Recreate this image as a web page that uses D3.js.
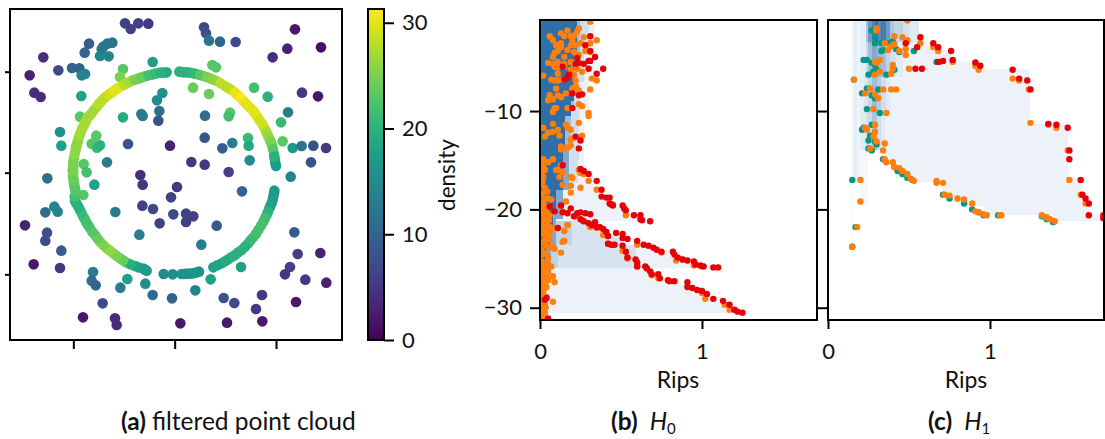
<!DOCTYPE html>
<html>
<head>
<meta charset="utf-8">
<script src="https://cdn.jsdelivr.net/npm/d3@7"></script>
<style>
  body { margin: 0; background: #fff; }
  svg { display: block; }
  text { font-family: Lato, "Noto Sans", sans-serif; fill: #111; }
  .tick text { font-size: 22px; }
  .tick line, .frame { stroke: #000; stroke-width: 2px; }
  .frame { fill: none; }
  .shade { shape-rendering: crispEdges; }
</style>
</head>
<body>
<svg width="1105" height="439"></svg>
<script>
// point cloud: [x, y, density], x/y in the plot's own unlabelled units
let cloudPoints = [
  [375,70,6],[392,87,6],[415,70,6],[445,71,5],[612,82,7],[618,100,8],[627,122,12],[660,125,10],[707,126,7],[885,88,2],[963,142,1],[862,146,3],[818,172,4],
  [267,131,9],[337,128,12],[322,131,12],[310,140,12],[305,147,12],[300,168,14],[326,169,14],[254,158,10],[130,172,4],[89,226,3],[175,211,7],[216,204,10],[238,205,10],[255,222,14],[245,226,14],
  [458,186,17],[369,207,23],[360,231,25],[637,195,23],[648,202,23],[762,263,22],[803,290,20],[906,278,5],[954,289,2],[864,337,13],[843,367,21],[848,424,23],[878,444,17],[905,438,12],[940,437,8],[978,444,5],[933,487,8],[872,530,14],
  [244,288,18],[103,278,4],[122,291,4],[240,350,23],[369,352,19],[424,342,13],[428,348,13],[478,333,11],[475,362,8],[471,301,15],[487,279,16],[579,263,24],[627,282,24],[615,347,11],[690,338,23],[686,349,22],[614,413,8],[667,445,9],[697,429,13],[744,414,21],[746,437,19],[749,481,15],[574,486,5],[614,494,5],[686,516,6],
  [180,396,16],[184,437,18],[289,407,23],[275,431,23],[291,443,21],[300,436,20],[384,432,8],[510,437,3],[321,487,13],[251,492,23],[260,517,22],[142,535,11],[421,525,4],
  [428,554,5],[531,561,5],[283,554,18],[513,592,6],[726,574,10],[427,617,6],[459,627,7],[520,643,7],[558,641,6],[580,649,6],[558,666,6],[479,670,6],[650,677,9],[346,636,13],[163,620,14],[173,635,14],[136,637,11],[75,676,3],[141,698,8],[136,722,7],[184,752,9],[418,704,13],[604,734,13],[883,697,9],[893,762,6],[961,759,3],[870,801,6],[855,823,5],[916,839,5],[979,848,3],[101,793,2],[180,804,5],[279,816,13],[275,842,11],[287,856,10],[361,863,13],[382,837,18],[436,851,15],[458,885,11],[516,895,10],[586,871,14],[632,838,18],[723,801,18],[671,894,8],[703,909,7],[786,885,5],[768,927,5],[888,906,2],[787,964,2],[681,968,2],[541,970,2],[345,955,4],[350,975,4],[249,952,2],[308,910,7],
  // the ring
  [219,525,24],[218,510,25],[219,495,25],[222,475,25],[227,450,26],[230,435,26],[236,415,27],[243,395,27],[252,375,27],[262,355,28],[275,340,27],[290,320,28],[305,303,28],[320,288,29],[335,278,29],[350,267,30],[365,258,29],[380,250,27],[395,242,26],[415,236,24],[435,229,23],[455,224,22],[475,219,20],[490,218,19],[500,217,19],
  [538,215,20],[550,217,20],[570,218,21],[590,222,22],[610,228,24],[630,235,26],[650,243,27],[675,258,28],[695,270,29],[715,287,30],[730,302,31],[745,318,30],[760,333,30],[772,350,30],[785,370,29],[795,388,28],[803,405,27],[810,420,26],[816,435,25],[822,462,22],[825,480,19],[826,490,18],[828,498,17],
  [823,572,17],[820,590,17],[815,610,18],[808,625,19],[800,645,21],[790,665,22],[775,690,22],[760,712,22],[745,730,21],[725,750,20],[705,765,20],[685,778,20],[665,790,19],[640,802,18],
  [597,815,16],[580,820,16],[560,821,16],[545,822,16],[518,823,15],[491,822,15],[440,812,17],[430,806,17],[405,798,19],[378,787,23],[360,775,24],[340,760,26],[320,745,26],[300,725,25],[285,705,24],[270,685,23],[258,665,22],[250,650,22],[240,630,20],[232,615,20],[225,602,20],[228,580,22],[225,565,23],[222,550,24],[220,535,24],[250,585,23],
  [220,517,25],[220,502,25],[220,485,25],[224,462,26],[228,442,26],[233,425,26],[239,405,27],[247,385,27],[257,365,27],[268,347,27],[282,330,27],[297,311,28],[312,295,28],[327,283,29],[342,272,30],[357,262,30],[372,254,28],[387,246,27],[405,239,25],[425,232,24],[445,226,22],[465,221,21],[483,218,20],
  [544,216,20],[560,217,20],[580,220,21],[600,225,23],[620,231,25],[640,239,26],[662,250,28],[685,264,28],[705,278,30],[722,294,31],[737,310,30],[752,325,30],[766,341,30],[778,360,29],[790,379,29],[799,396,27],[806,412,26],[813,427,25],[819,448,23],[823,470,20],
  [822,580,17],[818,600,17],[811,617,18],[804,635,20],[795,655,22],[783,677,22],[768,701,22],[752,721,21],[735,740,20],[715,757,20],[695,771,20],[675,784,19],[652,796,18],
  [588,818,16],[570,821,16],[552,822,16],[435,809,17],[415,802,18],[391,793,20],[369,781,24],[350,768,25],[330,752,26],[310,735,25],[292,715,24],[277,695,23],[264,675,22],[254,657,22],[245,640,21],[236,622,20],[228,608,20],[224,590,22],[226,572,23],[223,557,23],[221,542,24]
];
let cloudTicksX = [220, 524, 828];
let cloudTicksY = [215, 518, 823];
let densityTicks = [0, 10, 20, 30];

let ripsTicks = [0, 1];
let valueTicks = [-10, -20, -30];

// panel b, H0: [Rips, value]
let h0Teal = [[0,-1],[0,-3],[0,-5],[0,-7],[0,-9],[0,-11],[0,-13],[0,-15],[0,-17],[0,-19],[0,-21],[0,-23],[0,-25]];
let h0Orange = [
  [.31,-.92],[.24,-1.6],[.23,-1.9],[.21,-2.3],[.19,-2.4],[.15,-2.4],[.17,-1.8],[.13,-2.1],[.06,-2.4],[.08,-2.8],[.20,-2.8],[.27,-2.5],[.35,-2.8],[.31,-3.1],[.25,-3.1],[.22,-3.3],[.19,-3.3],[.13,-3.1],[.10,-3.3],[.13,-3.5],
  [.17,-3.8],[.11,-3.9],[.09,-4.1],[.08,-4.5],[.21,-4.0],[.28,-3.9],[.31,-4.0],[.24,-4.3],[.15,-4.5],[.11,-5.0],[.05,-5.1],[.08,-5.2],[.19,-5.0],[.15,-5.2],[.21,-5.2],[.23,-5.7],[.19,-5.8],[.11,-5.6],[.09,-5.5],[.15,-5.5],
  [.21,-6.3],[.26,-6.0],[.11,-6.2],[.02,-6.4],[.07,-6.8],[.09,-6.9],[.11,-6.9],[.14,-6.8],[.22,-6.9],[.32,-6.7],[.35,-6.9],[.31,-7.8],[.24,-7.9],[.22,-7.5],[.20,-7.7],[.10,-7.7],[.16,-8.2],[.06,-8.4],[.05,-8.9],[.08,-8.8],
  [.11,-8.4],[.13,-8.6],[.09,-9.7],[.08,-10.1],[.10,-9.7],[.17,-9.7],[.24,-9.3],[.26,-9.5],[.30,-10.2],[.30,-10.5],[.24,-11.2],[.16,-11.4],[.17,-11.7],[.19,-11.9],[.02,-11.7],[.08,-11.3],[.11,-11.9],[.08,-12.1],[.05,-12.2],[.03,-12.6],
  [.12,-12.5],[.21,-12.7],[.19,-12.9],[.26,-12.5],[.19,-13.5],[.15,-13.8],[.13,-13.6],[.13,-13.9],[.17,-13.7],[.08,-14.9],[.02,-14.9],[.05,-15.2],[.01,-15.4],[.02,-15.7],[.03,-16.0],[.01,-16.3],[.11,-16.0],[.13,-15.5],[.14,-16.2],[.10,-16],
  [.19,-16.7],[.24,-16],[.25,-16.3],[.12,-16.7],[.02,-16.7],[.14,-17.5],[.19,-17.6],[.20,-16.8],[.25,-17.8],[.30,-17.1],[.27,-16.4],[.35,-18.0],[.45,-19.5],[.53,-20.6],[.16,-19.2],[.01,-18.4],[.03,-18.9],[.05,-18.9],[.07,-19],[.02,-19.3],
  [.05,-19.7],[.01,-20.1],[.03,-20.4],[.06,-20.6],[.14,-20.2],[.17,-21.6],[.03,-20.9],[.04,-21.4],[.01,-21.4],[.06,-21.8],[.19,-18.3],[.22,-20.7],[.26,-21.1],[.31,-21.8],[.35,-21.9],[.39,-22.6],[.42,-23.5],[.51,-24.2],[.15,-23.2],[.14,-23.3],
  [.13,-24.4],[.17,-21.6],[.15,-22.2],[.08,-23.8],[.07,-25.8],[.08,-26.8],[.09,-27.4],[.08,-29.4],[.60,-23.6],[.75,-24.4],[.54,-25],[.60,-25.8],[.69,-26.7],[.73,-27],[.84,-25.2],[.88,-25.1],[.95,-25.7],[1.0,-25.8],[1.0,-28.5],[1.02,-29.1],
  [1.14,-29.7],[1.17,-30.2],[.01,-22.2],[.03,-22.5],[.05,-22.9],[.02,-23.3],[.04,-23.7],[.01,-24.1],[.03,-24.5],[.05,-24.9],[.01,-25.3],[.03,-25.7],[.05,-26.1],[.02,-26.5],[.04,-26.9],[.01,-27.3],[.03,-27.7],[.01,-28.1],[.02,-28.5],[.04,-28.9],
  [.01,-29.3],[.03,-29.7],[.01,-30.1],[.03,-30.5],[.01,-30.9],[.005,-22],[.005,-24.7],[.005,-26.7],[.005,-28.9],[.06,-22.3],[.08,-21.9],[.09,-24],
  [0,-17.5],[0,-18.5],[0,-19.5],[0,-20.5],[0,-21.5],[0,-22.5],[0,-23.5],[0,-24.5],[0,-25.5],[0,-26.5],[0,-27.5],[0,-28.5],[0,-29.5],[0,-30.5],
  [.015,-17.2],[.03,-17.8],[.045,-18.2],[.015,-19.8],[.04,-20.2],[.055,-21.1],[.02,-21.8],[.04,-22.1],[.06,-23.1],[.03,-23.1],[.06,-23.9],[.02,-24.4],[.045,-25.3],[.02,-25.9],[.05,-26.5],[.03,-26.2],[.015,-27],[.05,-27.2],[.03,-28],[.04,-27.9],[.02,-29],[.035,-30],[.02,-30.4],[.02,-31]
];
let h0Red = [
  [.31,-2.4],[.28,-3.3],[.31,-3.9],[.34,-4.5],[.30,-4.9],[.31,-4.9],[.23,-4.6],[.22,-5.2],[.24,-5.1],[.27,-5.2],[.14,-5.5],[.30,-5.7],[.39,-5.7],[.35,-6.2],[.18,-6.3],[.17,-6.6],[.15,-6.8],[.20,-8.2],[.24,-8.4],[.26,-8.3],[.20,-9.7],[.22,-12.6],[.25,-13],[.24,-13.8],[.14,-15.5],[.25,-15.9],[.27,-16.1],[.30,-16.4],[.35,-17.1],
  [.38,-18],[.38,-18.7],[.41,-18.8],[.43,-18.8],[.43,-19.4],[.44,-19.5],[.45,-19.6],[.51,-19.6],[.52,-19.9],[.53,-20.1],[.58,-20.6],[.62,-20.6],[.62,-21],[.63,-21.1],[.68,-21.2],
  [.06,-19.7],[.13,-19.6],[.09,-20.2],[.14,-20.3],[.19,-19.9],[.17,-20.4],[.21,-20.7],[.23,-20.4],[.25,-20.3],[.28,-20.4],[.31,-20.5],[.25,-21],[.27,-21.2],[.30,-21.4],[.32,-21.6],[.34,-21.3],[.35,-21.8],[.37,-21.8],[.39,-22],[.41,-22.3],[.42,-22.7],[.47,-22.4],[.51,-22.5],[.51,-22.9],[.54,-23],[.11,-21.9],
  [.60,-23.2],[.64,-23.6],[.67,-23.7],[.70,-23.9],[.72,-24.1],[.75,-24.3],[.82,-24.3],[.83,-24.6],[.85,-24.9],[.88,-25.1],[.91,-25.2],[.95,-25.3],[.96,-25.6],[.99,-25.7],[1.01,-25.8],[1.07,-25.9],[1.10,-25.9],
  [.42,-23.5],[.44,-23.6],[.46,-23.6],[.51,-23.7],[.53,-24.3],[.54,-24.9],[.59,-25.1],[.60,-25.4],[.60,-25.8],[.65,-25.8],[.66,-26],[.68,-26.3],[.69,-26.6],[.73,-26.6],[.74,-27],[.79,-27.2],[.80,-27.3],[.83,-27.3],[.91,-27.4],[.91,-27.9],[.94,-28],[.97,-28.2],[1.0,-28.3],[1.03,-28.6],[1.07,-29.1],[1.13,-29.3],[1.17,-29.7],[1.20,-30.2],[1.22,-30.4],[1.25,-30.5],
  [.04,-29],[.03,-29.2],[.05,-31.1]
];
// shaded rank regions: [Rips from, Rips to, value top, value bottom, level]
let h0Shade = [
  [0,.67,-26,-26.7,9],[0,.75,-26.7,-27.2,9],[0,.83,-27.2,-27.7,9],[0,.94,-27.7,-28.2,9],[0,1.02,-28.2,-28.9,9],[0,1.12,-28.9,-29.6,9],[0,1.22,-29.6,-30.55,9],
  [0,.68,-23.6,-24,9],[0,.76,-24,-24.5,9],[0,.85,-24.5,-25,9],[0,.93,-25,-25.5,9],[0,1.02,-25.5,-26,9],
  [0,.27,-15.8,-16.5,9],[0,.33,-16.5,-17.2,9],[0,.36,-17.2,-18.2,9],[0,.40,-18.2,-19,9],[0,.45,-19,-19.7,9],[0,.52,-19.7,-20.3,9],[0,.62,-20.3,-21.2,9],
  [0,.34,-.74,-6.5,9],[0,.30,-6.5,-10.5,9],[0,.27,-10.5,-15.8,9],
  [0,.30,-21.2,-21.7,19],[0,.37,-21.7,-22.2,19],[0,.42,-22.2,-22.8,19],[0,.52,-22.8,-23.6,19],[0,.59,-23.6,-26,19],
  [0,.30,-.74,-3,22],[0,.27,-3,-7,22],[0,.25,-7,-10.5,22],[0,.24,-10.5,-15,22],[0,.235,-15,-17.3,22],
  [0,.20,-21.2,-23.6,30],[0,.11,-23.6,-26,30],[0,.05,-26,-28,30],
  [0,.245,-.74,-5,45],[0,.21,-5,-10,45],[0,.19,-10,-14,45],[0,.17,-14,-18,45],[0,.13,-18,-21,45],
  [0,.18,-14,-18,60],[0,.14,-18,-21,60],[0,.10,-21,-24,60],[0,.07,-24,-26,60],
  [0,.23,-.74,-4,100],[0,.21,-4,-9,100],[0,.19,-9,-10.5,100],[0,.155,-10.5,-14,100],[0,.14,-14,-18,100],[0,.10,-18,-20.5,100],[0,.08,-20.5,-22,100],[0,.06,-22,-24,100],[0,.04,-24,-26,100]
];

// panel c, H1: [Rips, value]
let h1Teal = [
  [.27,-1.8],[.29,-2.5],[.29,-3.1],[.33,-3.1],[.40,-2.9],[.38,-3.1],[.42,-3.7],[.44,-4.0],[.34,-3.8],[.33,-3.9],[.53,-3.9],[.67,-5],[.22,-4.8],[.24,-4.8],[.27,-5.1],[.29,-5.3],[.30,-5.8],[.28,-6],[.25,-6.3],[.36,-6.3],[.41,-5.8],[.16,-6.8],[.24,-7.7],[.31,-7.8],[.21,-8.2],[.27,-8.4],[.29,-8.7],[.24,-9.8],[.32,-10.2],[.27,-11.4],[.21,-11.9],[.22,-11.7],[.26,-12.5],[.25,-13],[.29,-13.1],[.30,-13.4],[.25,-13.8],[.27,-14],[.34,-14.9],[.41,-15.7],[.43,-16.1],[.46,-16.4],[.49,-16.8],[.52,-17],[.15,-17],[.71,-18.5],[.75,-18.9],[.84,-19.4],[.89,-20],[.93,-20.3],[.96,-20.6],[1.05,-20.6],[1.32,-20.7],[1.35,-21],[1.39,-21.3],[.17,-21.8],[.15,-23.8]
];
let h1Orange = [
  [.49,-.8],[.30,-1.6],[.30,-1.8],[.41,-2.4],[.46,-2.5],[.49,-2.8],[.57,-3.1],[.35,-3.1],[.41,-3.2],[.39,-3.4],[.37,-3.8],[.48,-3.7],[.44,-3.9],[.48,-4.3],[.65,-3.5],[.68,-3.9],[.32,-4.8],[.29,-5],[.30,-5.1],[.69,-5],[.77,-5],[.40,-5.3],[.40,-5.7],[.50,-5.7],[.32,-6],[.29,-6.3],[.39,-6.2],[.91,-5.4],[.93,-5.8],[.16,-6.8],[1.14,-6.7],[1.18,-6.9],[1.24,-7.8],[.26,-7.7],[.34,-7.8],[.39,-7.8],[.42,-7.8],[.23,-8.2],[.29,-8.3],[.31,-8.7],[.28,-9.8],[.36,-10.2],[1.25,-11.2],[1.36,-11.4],[1.41,-11.7],[.29,-11.4],[.23,-11.7],[.24,-11.9],[.29,-12.1],[.28,-12.6],[.30,-13.1],[.35,-13.3],[.26,-13.8],[.34,-14],[1.48,-14],[.35,-14.9],[.36,-15.2],[.40,-15.2],[.41,-15.7],[.44,-15.8],[.46,-16.1],[.49,-16.4],[.51,-16.9],[.53,-17.1],[.67,-17.3],[.67,-17.1],[.71,-17.3],[.20,-17],[1.49,-17],[1.56,-18.5],[1.59,-19.4],[.72,-18.5],[.75,-18.6],[.80,-18.9],[.84,-19],[.89,-19.4],[.91,-20.2],[.93,-20.3],[.96,-20.5],[.98,-20.6],[1.06,-20.6],[1.07,-20.6],[1.32,-20.6],[1.35,-20.8],[1.37,-21],[1.40,-21.2],[.20,-19.2],[.18,-21.8],[.15,-23.8],[1.71,-20.9]
];
let h1Red = [
  [.57,-2.5],[.48,-3.1],[.55,-3.5],[.65,-3.1],[.68,-3.5],[.76,-3.9],[.71,-4.9],[.68,-5],[.77,-4.8],[.54,-5.7],[.58,-5.7],[.91,-5.05],[.94,-5.4],[1.14,-5.8],[1.18,-6.7],[1.23,-6.9],[1.25,-7.8],[1.36,-11.3],[1.41,-11.4],[1.48,-11.7],[1.49,-14],[1.49,-14.9],[1.56,-17],[1.57,-18.5],[1.59,-18.9],[1.61,-19.4],[1.61,-20.6],[1.70,-20.6],[1.70,-20.9]
];
let h1Shade = [
  [.15,.155,-.74,-23.8,6],[.155,.20,-.74,-17,8],[.16,.18,-.74,-17,12],[.20,.25,-14,-19.7,5],[.20,.25,-.74,-14,12],
  [.35,.57,-2.3,-2.95,9],[.35,.64,-2.95,-3.8,9],[.35,.76,-3.8,-5,9],[.35,.91,-5,-5.7,9],[.35,1.24,-5.7,-7.9,9],[.35,1.25,-7.9,-11.3,9],[.35,1.48,-11.3,-14.65,9],[.38,1.48,-14.65,-15.7,9],[.42,1.49,-15.7,-16.85,9],[.53,1.56,-16.85,-17.2,9],[.71,1.56,-17.2,-18.55,9],[.76,1.59,-18.55,-19.4,9],[.86,1.61,-19.4,-19.7,9],[.96,1.61,-19.7,-20.6,9],[1.39,1.71,-20.6,-21.15,9],
  // top zone of the vertical streaks
  [.235,.25,-.74,-3,40],[.25,.27,-.74,-3,70],[.27,.29,-.74,-3,85],[.29,.31,-.74,-3,95],[.31,.33,-.74,-3,80],[.33,.36,-.74,-3,90],[.36,.38,-.74,-3,70],[.38,.41,-.74,-3,40],[.41,.46,-.74,-3,30],[.46,.50,-.74,-3,20],[.50,.56,-.74,-3,15],
  [.235,.25,-3,-6.5,25],[.25,.27,-3,-6.5,45],[.27,.30,-3,-6.5,60],[.30,.33,-3,-6.5,50],[.33,.36,-3,-6.5,45],[.36,.38,-3,-6.5,30],[.38,.42,-3,-6.5,20],[.42,.46,-3,-6.5,14],
  [.22,.25,-6.5,-10.2,18],[.25,.27,-6.5,-10.2,30],[.27,.30,-6.5,-10.2,45],[.30,.33,-6.5,-10.2,35],[.33,.36,-6.5,-10.2,22],[.36,.39,-6.5,-10.2,14],
  [.21,.24,-10.2,-14,15],[.24,.27,-10.2,-14,25],[.27,.30,-10.2,-14,40],[.30,.33,-10.2,-14,22],[.33,.35,-10.2,-14,14]
];

let viridisMax = 31.3;
let dotColors = { teal: "#009988", orange: "#ff7f0e", red: "#e60008" };

let svg = d3.select("svg");
let shadeColor = d3.scaleLinear().domain([0, 100]).range(["#ffffff", "#2f6ea8"]);
let densityColor = d3.scaleSequential(d3.interpolateViridis).domain([0, viridisMax]);

function addAxisStyle(sel) {
  sel.select(".domain").remove();
}

/* (a) point cloud */
let cloudX = d3.scaleLinear().domain([30, 1026]).range([10, 342]);
let cloudY = d3.scaleLinear().domain([27, 1020]).range([9, 340]);
let cloudLayer = svg.append("g").attr("class", "cloud");
cloudLayer.append("g").selectAll("circle")
  .data(cloudPoints)
  .enter().append("circle")
  .attr("cx", d => cloudX(d[0]))
  .attr("cy", d => cloudY(d[1]))
  .attr("r", 5.3)
  .style("fill", d => densityColor(d[2]));
cloudLayer.append("g").attr("transform", "translate(0,340)")
  .call(d3.axisBottom(cloudX).tickValues(cloudTicksX).tickSize(9).tickFormat(""))
  .call(addAxisStyle);
cloudLayer.append("g").attr("transform", "translate(10,0)")
  .call(d3.axisLeft(cloudY).tickValues(cloudTicksY).tickSize(5).tickFormat(""))
  .call(addAxisStyle);
cloudLayer.append("rect").attr("class", "frame")
  .attr("x", 10).attr("y", 9).attr("width", 332).attr("height", 331);

/* colorbar */
let barY = d3.scaleLinear().domain([0, viridisMax]).range([340, 9]);
let barLayer = svg.append("g").attr("class", "colorbar");
let gradient = svg.append("defs").append("linearGradient")
  .attr("id", "density-gradient")
  .attr("x1", 0).attr("x2", 0).attr("y1", 1).attr("y2", 0);
gradient.selectAll("stop")
  .data(d3.range(0, 1.001, 0.05))
  .enter().append("stop")
  .attr("offset", d => d)
  .attr("stop-color", d => d3.interpolateViridis(d));
barLayer.append("rect")
  .attr("x", 368).attr("y", 9).attr("width", 16).attr("height", 331)
  .style("fill", "url(#density-gradient)");
barLayer.append("rect").attr("class", "frame")
  .attr("x", 368).attr("y", 9).attr("width", 16).attr("height", 331);
barLayer.append("g").attr("transform", "translate(384,0)")
  .call(d3.axisRight(barY).tickValues(densityTicks).tickSize(10).tickPadding(8))
  .call(addAxisStyle);
barLayer.append("text")
  .attr("transform", "translate(455,175) rotate(-90)")
  .attr("text-anchor", "middle")
  .style("font-size", "22.5px")
  .text("density");

/* (b) and (c) share the same frame size */
function rankPanel(name, left, right, shades, teal, orange, red, labelY) {
  let x = d3.scaleLinear().domain([0, 1.71]).range([left, left + 277]);
  let y = d3.scaleLinear().domain([-.74, -31.25]).range([20, 320]);
  let g = svg.append("g").attr("class", name);

  let clipId = "clip-" + name;
  svg.append("clipPath").attr("id", clipId)
    .append("rect").attr("x", left).attr("y", 20).attr("width", right - left).attr("height", 300);

  let inner = g.append("g").attr("clip-path", `url(#${clipId})`);
  inner.selectAll("rect.shade")
    .data(shades.slice().sort((a, b) => a[4] - b[4]))
    .enter().append("rect")
    .attr("class", "shade")
    .attr("x", d => x(d[0]))
    .attr("width", d => x(d[1]) - x(d[0]))
    .attr("y", d => y(d[2]))
    .attr("height", d => y(d[3]) - y(d[2]))
    .style("fill", d => shadeColor(d[4]));

  [[teal, dotColors.teal], [orange, dotColors.orange], [red, dotColors.red]].forEach(([pts, col]) => {
    inner.append("g").selectAll("circle")
      .data(pts)
      .enter().append("circle")
      .attr("cx", d => x(d[0]))
      .attr("cy", d => y(d[1]))
      .attr("r", 3.2)
      .style("fill", col);
  });

  g.append("g").attr("transform", "translate(0,320)")
    .call(d3.axisBottom(x).tickValues(ripsTicks).tickSize(9).tickPadding(14).tickFormat(d3.format("d")))
    .call(addAxisStyle);
  let yAxis = d3.axisLeft(y).tickValues(valueTicks).tickSize(10).tickPadding(8);
  if (!labelY) yAxis.tickFormat("");
  g.append("g").attr("transform", `translate(${left},0)`).call(yAxis).call(addAxisStyle);

  g.append("rect").attr("class", "frame")
    .attr("x", left).attr("y", 20).attr("width", right - left).attr("height", 300);
  g.append("text")
    .attr("x", left + 138).attr("y", 388)
    .attr("text-anchor", "middle")
    .style("font-size", "23px")
    .text("Rips");
}
rankPanel("h0", 540, 817, h0Shade, h0Teal, h0Orange, h0Red, true);
rankPanel("h1", 828, 1104, h1Shade, h1Teal, h1Orange, h1Red, false);

/* captions */
function caption(xPos, tag, build) {
  let t = svg.append("text").attr("x", xPos).attr("y", 430).style("font-size", "24.5px");
  t.append("tspan").style("font-weight", "700").text(tag);
  build(t);
}
function homology(t, idx) {
  t.append("tspan").attr("dx", 12).style("font-style", "italic").text("H");
  t.append("tspan").attr("dy", 4).style("font-size", "15px").text(idx);
}
caption(121, "(a)", t => t.append("tspan").attr("dx", 6).text("filtered point cloud"));
caption(611, "(b)", t => homology(t, "0"));
caption(928, "(c)", t => homology(t, "1"));
</script>
</body>
</html>
